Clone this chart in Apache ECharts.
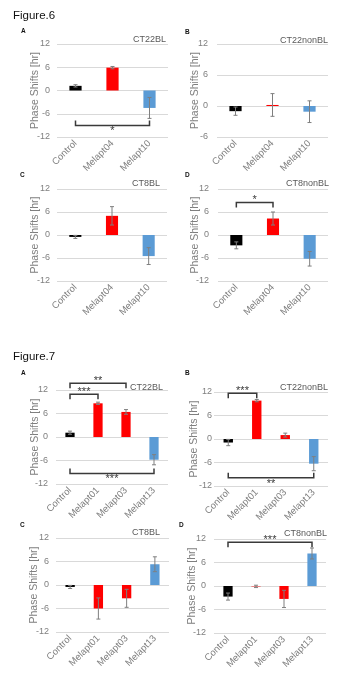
<!DOCTYPE html>
<html>
<head>
<meta charset="utf-8">
<script src="https://cdn.jsdelivr.net/npm/echarts@6/dist/echarts.min.js"></script>
<style>
html,body{margin:0;padding:0;background:#fff;}
#chart{width:350px;height:700px;}
</style>
</head>
<body>
<div id="chart"></div>
<script>
// ---------- data ----------
const fig6Categories = ['Control', 'Melapt04', 'Melapt10'];
const fig7Categories = ['Control', 'Melapt01', 'Melapt03', 'Melapt13'];
const panelTitles = ['CT22BL', 'CT22nonBL', 'CT8BL', 'CT8nonBL'];
const panelLetters = ['A', 'B', 'C', 'D'];
const figureTitles = ['Figure.6', 'Figure.7'];
const yAxisName = 'Phase Shifts [hr]';

const fig6AValues = [1.2, 5.9, -4.5];
const fig6AErrors = [0.3, 0.3, 2.7];
const fig6BValues = [-1.0, 0.2, -1.1];
const fig6BErrors = [0.8, 2.2, 2.1];
const fig6CValues = [-0.5, 5.0, -5.5];
const fig6CErrors = [0.4, 2.4, 2.2];
const fig6DValues = [-2.7, 4.3, -6.2];
const fig6DErrors = [0.9, 1.7, 1.9];

const fig7AValues = [1.1, 8.6, 6.4, -5.8];
const fig7AErrors = [0.4, 0.3, 0.6, 1.3];
const fig7BValues = [-0.9, 9.8, 1.0, -6.3];
const fig7BErrors = [0.8, 0.3, 0.5, 1.8];
const fig7CValues = [-0.5, -6.0, -3.4, 5.3];
const fig7CErrors = [0.4, 2.7, 2.3, 1.9];
const fig7DValues = [-2.7, -0.1, -3.3, 8.3];
const fig7DErrors = [0.9, 0.3, 2.2, 1.4];

// significance brackets: [fromCategory, toCategory, yLevel, label]
const fig6ABrackets = [[0, 2, -9.0, '*']];
const fig6BBrackets = [];
const fig6CBrackets = [];
const fig6DBrackets = [[0, 1, 8.5, '*']];
const fig7ABrackets = [[0, 1, 10.9, '***'], [0, 2, 13.7, '**'], [0, 3, -9.3, '***']];
const fig7BBrackets = [[0, 1, 11.7, '***'], [0, 3, -9.9, '**']];
const fig7CBrackets = [];
const fig7DBrackets = [[0, 3, 11.2, '***']];

const yTickInterval = 6;

// ---------- style / layout ----------
const BLACK = '#000000', RED = '#ff0000', BLUE = '#5b9bd5';
const fig6Colors = [BLACK, RED, BLUE];
const fig7Colors = [BLACK, RED, RED, BLUE];
const FONT = 'Liberation Sans, Arial, sans-serif';

const panels = [
  {cats: fig6Categories, colors: fig6Colors, values: fig6AValues, errors: fig6AErrors, brackets: fig6ABrackets, title: panelTitles[0], letter: panelLetters[0],
   left: 57, width: 111, top: 44, height: 93, min: -12, max: 12, labelMargin: 7, nameCx: 33, titleR: 166, titleY: 40, letterX: 21, letterY: 31},
  {cats: fig6Categories, colors: fig6Colors, values: fig6BValues, errors: fig6BErrors, brackets: fig6BBrackets, title: panelTitles[1], letter: panelLetters[1],
   left: 217, width: 111, top: 44, height: 93, min: -6, max: 12, labelMargin: 9, nameCx: 193, titleR: 328, titleY: 41, letterX: 185, letterY: 32},
  {cats: fig6Categories, colors: fig6Colors, values: fig6CValues, errors: fig6CErrors, brackets: fig6CBrackets, title: panelTitles[2], letter: panelLetters[2],
   left: 57, width: 110, top: 189, height: 92, min: -12, max: 12, labelMargin: 7, nameCx: 33, titleR: 160, titleY: 184, letterX: 20, letterY: 175},
  {cats: fig6Categories, colors: fig6Colors, values: fig6DValues, errors: fig6DErrors, brackets: fig6DBrackets, title: panelTitles[3], letter: panelLetters[3],
   left: 218, width: 110, top: 189, height: 92, min: -12, max: 12, labelMargin: 9, nameCx: 193, titleR: 329, titleY: 184, letterX: 185, letterY: 175},
  {cats: fig7Categories, colors: fig7Colors, values: fig7AValues, errors: fig7AErrors, brackets: fig7ABrackets, title: panelTitles[0], letter: panelLetters[0],
   left: 56, width: 112, top: 390, height: 94, min: -12, max: 12, labelMargin: 8, nameCx: 33, titleR: 163, titleY: 388, letterX: 21, letterY: 373},
  {cats: fig7Categories, colors: fig7Colors, values: fig7BValues, errors: fig7BErrors, brackets: fig7BBrackets, title: panelTitles[1], letter: panelLetters[1],
   left: 214, width: 114, top: 392, height: 94, min: -12, max: 12, labelMargin: 2, nameCx: 192, titleR: 328, titleY: 388, letterX: 185, letterY: 373},
  {cats: fig7Categories, colors: fig7Colors, values: fig7CValues, errors: fig7CErrors, brackets: fig7CBrackets, title: panelTitles[2], letter: panelLetters[2],
   left: 56, width: 113, top: 538, height: 94, min: -12, max: 12, labelMargin: 7, nameCx: 32, titleR: 160, titleY: 533, letterX: 20, letterY: 525},
  {cats: fig7Categories, colors: fig7Colors, values: fig7DValues, errors: fig7DErrors, brackets: fig7DBrackets, title: panelTitles[3], letter: panelLetters[3],
   left: 214, width: 112, top: 539, height: 94, min: -12, max: 12, labelMargin: 8, nameCx: 190, titleR: 327, titleY: 534, letterX: 179, letterY: 525}
];

const NAME_FONT = 10.5;

function renderError(params, api) {
  const x = api.value(0), v = api.value(1), e = api.value(2);
  const t = api.coord([x, v + e]);
  const b = api.coord([x, v - e]);
  const cap = 2;
  const st = {stroke: '#7f7f7f', lineWidth: 1};
  return {type: 'group', children: [
    {type: 'line', shape: {x1: t[0], y1: t[1], x2: b[0], y2: b[1]}, style: st},
    {type: 'line', shape: {x1: t[0] - cap, y1: t[1], x2: t[0] + cap, y2: t[1]}, style: st},
    {type: 'line', shape: {x1: b[0] - cap, y1: b[1], x2: b[0] + cap, y2: b[1]}, style: st}
  ]};
}

function makeBracketRender(brackets) {
  return function (params, api) {
    const lvl = api.value(2);
    const a = api.coord([api.value(0), lvl]);
    const b = api.coord([api.value(1), lvl]);
    const up = lvl > 0;
    const tick = up ? 5 : -5;
    const st = {stroke: '#3a3a3a', lineWidth: 1.5, fill: null};
    return {type: 'group', children: [
      {type: 'polyline', shape: {points: [[a[0], a[1] + tick], [a[0], a[1]], [b[0], b[1]], [b[0], b[1] + tick]]}, style: st},
      {type: 'text', x: (a[0] + b[0]) / 2, y: a[1] + (up ? -2 : 6),
       style: {text: brackets[params.dataIndex][3], align: 'center', verticalAlign: 'middle', fontSize: 11, fill: '#3a3a3a', fontFamily: FONT}}
    ]};
  };
}

const grid = [], xAxis = [], yAxis = [], series = [], graphic = [];

graphic.push({type: 'text', left: 13, top: 10, style: {text: figureTitles[0], fontSize: 11.5, fill: '#111', fontFamily: FONT}});
graphic.push({type: 'text', left: 13, top: 351, style: {text: figureTitles[1], fontSize: 11.5, fill: '#111', fontFamily: FONT}});

panels.forEach((p, k) => {
  grid.push({left: p.left, top: p.top, width: p.width, height: p.height, containLabel: false});
  xAxis.push({
    type: 'category', gridIndex: k, data: p.cats,
    axisLine: {show: false}, axisTick: {show: false},
    axisLabel: {rotate: 45, fontSize: 9.5, color: '#7f7f7f', margin: 5, interval: 0, fontFamily: FONT},
    splitLine: {show: false}
  });
  yAxis.push({
    type: 'value', gridIndex: k, min: p.min, max: p.max, interval: yTickInterval,
    axisLine: {show: false}, axisTick: {show: false},
    axisLabel: {fontSize: 9, color: '#7f7f7f', margin: p.labelMargin, fontFamily: FONT},
    splitLine: {lineStyle: {color: '#d9d9d9', width: 1}},
    name: yAxisName, nameLocation: 'middle', nameRotate: 90, nameMoveOverlap: false,
    nameGap: p.left - p.nameCx - NAME_FONT / 2 - 2,
    nameTextStyle: {fontSize: NAME_FONT, color: '#7f7f7f', fontFamily: FONT}
  });
  series.push({
    type: 'bar', xAxisIndex: k, yAxisIndex: k, barWidth: '33%', animation: false,
    data: p.values.map((v, i) => ({value: v, itemStyle: {color: p.colors[i]}}))
  });
  series.push({
    type: 'custom', xAxisIndex: k, yAxisIndex: k, animation: false, clip: false,
    renderItem: renderError, z: 5,
    data: p.values.map((v, i) => [i, v, p.errors[i]])
  });
  if (p.brackets.length) {
    series.push({
      type: 'custom', xAxisIndex: k, yAxisIndex: k, animation: false, clip: false,
      renderItem: makeBracketRender(p.brackets), z: 6,
      encode: {x: 0, y: 2},
      data: p.brackets.map(b => [b[0], b[1], b[2]])
    });
  }
  graphic.push({type: 'text', x: p.titleR, y: p.titleY,
    style: {text: p.title, fontSize: 9, fill: '#595959', align: 'right', verticalAlign: 'middle', fontFamily: FONT}});
  graphic.push({type: 'text', x: p.letterX, y: p.letterY,
    style: {text: p.letter, fontSize: 6.5, fontWeight: 'bold', fill: '#111', align: 'left', verticalAlign: 'middle', fontFamily: FONT}});
});

const chart = echarts.init(document.getElementById('chart'), null, {renderer: 'canvas'});
chart.setOption({
  backgroundColor: '#ffffff',
  animation: false,
  grid, xAxis, yAxis, series, graphic
});
</script>
</body>
</html>
